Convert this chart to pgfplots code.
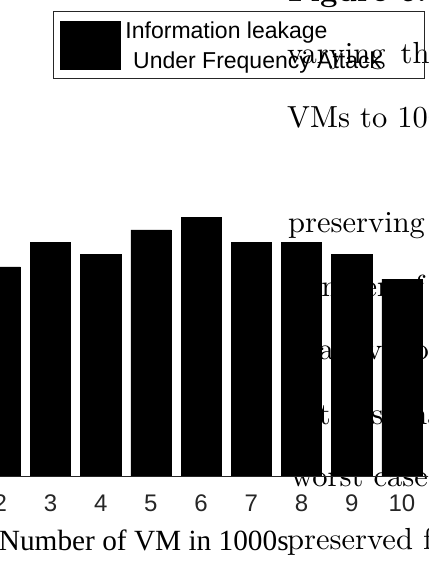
\documentclass[border=0pt]{standalone}
\usepackage{fontspec}
\usepackage{pgfplots}
\pgfplotsset{compat=1.18}

\newfontfamily\arialf{Liberation Sans}
\newfontfamily\timesf{Liberation Serif}
\newfontfamily\cmten{lmroman10-regular}[Extension=.otf, BoldFont=lmroman10-bold]
\definecolor{axgray}{gray}{0.15}

% information leakage per number of VMs (in 1000s)
\pgfplotstableread{
vm leak
2  17
3  19
4  18
5  20
6  21
7  19
8  19
9  18
10 16
}\leakdata

\begin{document}
\begin{tikzpicture}[x=1pt,y=1pt]
\path[use as bounding box, clip] (0pt,0pt) rectangle (428pt,561pt);

% running text of the neighbouring column
\begin{scope}[every node/.style={anchor=base west, inner sep=0pt,
    font=\cmten\fontsize{30.5}{36}\selectfont}]
  \node at (288pt,559pt) {\bfseries Figure 6: Information};
  \node at (287pt,497pt) {varying\hspace{5pt} the number of};
  \node at (287pt,433pt) {VMs to 10000 in steps};
  \node at (288pt,328pt) {preserving the privacy};
  \node at (288pt,264pt) {number of VMs in the};
  \node at (288pt,201pt) {is a level of privacy};
  \node at (288pt,136pt) {is the scenario where};
  \node at (291pt,74pt)  {worst case scenario};
  \node at (287pt,11pt)  {preserved for all};
\end{scope}

\begin{axis}[
  at={(-100.1pt,85pt)}, anchor=south west,
  x=50.2pt, y=12.3pt,
  xmin=0, xmax=11, ymin=0, ymax=40,
  axis line style={axgray},
  xtick={1,...,10},
  xticklabels={1,2,3,4,5,6,7,8,9,10},
  xtick style={draw=none},
  ytick=\empty,
  xticklabel style={font=\arialf\fontsize{24}{24}\selectfont, anchor=base, yshift=-35.7pt, text=axgray},
  xlabel={Number of VM in 1000s},
  xlabel style={font=\timesf\fontsize{29.3}{30}\selectfont, at={(axis description cs:0.4417,0)}, anchor=base, yshift=-74pt, inner sep=0pt},
  legend style={at={(axis description cs:0.27671,0.94512)}, anchor=north west,
    draw=axgray, fill=none, inner xsep=7.3pt, inner ysep=0pt, column sep=2.9pt,
    font=\arialf\fontsize{23}{29.3}\selectfont,
    cells={anchor=west, inner sep=0pt}},
  legend image code/.code={
    \path[draw=none, fill=none] (0pt,-39.5pt) rectangle (60pt,27.5pt);
    \fill[black] (0pt,-30.5pt) rectangle (60pt,17.5pt);
  },
]
\addplot[ybar, bar width=0.8, fill=black, draw=black] table[x=vm, y=leak] {\leakdata};
\addlegendentry{\parbox[c]{289pt}{Information leakage\\\hspace*{7.7pt}Under Frequency Attack}}
\end{axis}
\end{tikzpicture}
\end{document}
